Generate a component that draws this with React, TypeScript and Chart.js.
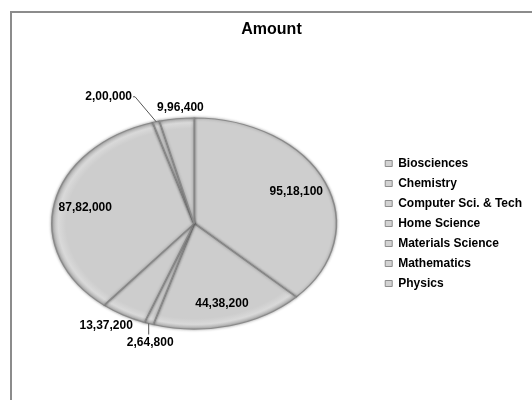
import React, { useEffect, useRef } from 'react';
import { Chart, registerables } from 'chart.js';

Chart.register(...registerables);

const categories = [
  'Biosciences',
  'Chemistry',
  'Computer Sci. & Tech',
  'Home Science',
  'Materials Science',
  'Mathematics',
  'Physics',
];
const amounts = [9518100, 4438200, 264800, 1337200, 8782000, 200000, 996400];
const chartTitle = 'Amount';

const FONT = '"Liberation Sans", Arial, sans-serif';
const Y_SCALE = 0.742;

function formatIndian(n: number): string {
  const s = String(Math.round(n));
  if (s.length <= 3) return s;
  const last3 = s.slice(-3);
  let rest = s.slice(0, -3);
  const parts: string[] = [];
  while (rest.length > 2) {
    parts.unshift(rest.slice(-2));
    rest = rest.slice(0, -2);
  }
  if (rest.length) parts.unshift(rest);
  return parts.join(',') + ',' + last3;
}

// label placement style: inside slices, or outside with an offset from the rim
const labelStyle: Record<number, { dx: number; dy: number; leader: boolean }> = {
  2: { dx: 1.5, dy: 19, leader: true },
  3: { dx: -17, dy: 11, leader: false },
  5: { dx: -47.5, dy: -25, leader: true },
  6: { dx: 3.7, dy: -11, leader: false },
};

const framePlugin = {
  id: 'frame',
  beforeDraw(chart: any) {
    const ctx = chart.ctx;
    ctx.save();
    ctx.fillStyle = '#ffffff';
    ctx.fillRect(0, 0, chart.width, chart.height);
    ctx.strokeStyle = '#8c8c8c';
    ctx.lineWidth = 2;
    ctx.beginPath();
    ctx.moveTo(11, chart.height + 2);
    ctx.lineTo(11, 12);
    ctx.lineTo(chart.width + 2, 12);
    ctx.stroke();
    ctx.restore();
  },
};

const ellipsePlugin = {
  id: 'ellipsePie',
  beforeDatasetsDraw(chart: any) {
    const meta = chart.getDatasetMeta(0);
    const arc = meta.data[0];
    if (!arc) return;
    const ctx = chart.ctx;
    ctx.save();
    ctx.translate(arc.x, arc.y);
    ctx.scale(1, Y_SCALE);
    ctx.translate(-arc.x, -arc.y);
    ctx.shadowColor = 'rgba(0,0,0,0.35)';
    ctx.shadowBlur = 3;
  },
  afterDatasetsDraw(chart: any) {
    const ctx = chart.ctx;
    ctx.restore();
    const meta = chart.getDatasetMeta(0);
    ctx.save();
    ctx.font = `bold 12px ${FONT}`;
    ctx.fillStyle = '#000';
    ctx.textAlign = 'center';
    ctx.textBaseline = 'middle';
    meta.data.forEach((arc: any, i: number) => {
      const { x, y, startAngle, endAngle, outerRadius } = arc;
      const mid = (startAngle + endAngle) / 2;
      const text = formatIndian(amounts[i]);
      const st = labelStyle[i];
      if (!st) {
        const f = 0.78;
        const px = x + Math.cos(mid) * outerRadius * f;
        const py = y + Math.sin(mid) * outerRadius * f * Y_SCALE;
        ctx.fillText(text, px, py);
        return;
      }
      const ex = x + Math.cos(mid) * outerRadius;
      const ey = y + Math.sin(mid) * outerRadius * Y_SCALE;
      const lx = ex + st.dx;
      const ly = ey + st.dy;
      ctx.fillText(text, lx, ly);
      if (st.leader) {
        const w = ctx.measureText(text).width;
        const left = lx - w / 2;
        const right = lx + w / 2;
        const top = ly - 7;
        const bottom = ly + 7;
        let tx: number;
        let ty: number;
        if (ex < left || ex > right) {
          tx = ex > right ? right + 3 : left - 3;
          ty = ly;
        } else {
          tx = ex;
          ty = ey < top ? top - 1 : bottom + 1;
        }
        ctx.save();
        ctx.strokeStyle = '#555';
        ctx.lineWidth = 1;
        ctx.beginPath();
        ctx.moveTo(ex, ey);
        ctx.lineTo(tx, ty);
        if (ex < left || ex > right) {
          ctx.lineTo(ex > right ? right + 1 : left - 1, ty);
        }
        ctx.stroke();
        ctx.restore();
      }
    });
    ctx.restore();
  },
};

export default function App() {
  const ref = useRef<HTMLCanvasElement | null>(null);

  useEffect(() => {
    if (!ref.current) return;
    const chart = new Chart(ref.current, {
      type: 'pie',
      data: {
        labels: categories,
        datasets: [
          {
            data: amounts,
            backgroundColor: (c: any) => {
              const ch = c.chart;
              const meta = ch.getDatasetMeta(0);
              const arc = meta && meta.data && meta.data[0];
              if (!arc || !arc.outerRadius) return '#cecece';
              const g = ch.ctx.createRadialGradient(arc.x, arc.y, 0, arc.x, arc.y, arc.outerRadius);
              g.addColorStop(0, '#cdcdcd');
              g.addColorStop(0.9, '#cdcdcd');
              g.addColorStop(0.955, '#d9d9d9');
              g.addColorStop(1, '#b5b5b5');
              return g;
            },
            borderColor: '#8a8a8a',
            borderWidth: 1.5,
            hoverOffset: 0,
            offset: 0,
          } as any,
        ],
      },
      options: {
        responsive: false,
        animation: false,
        events: [],
        layout: { padding: { left: 11, right: 0, top: 0, bottom: 33.5 } },
        plugins: {
          tooltip: { enabled: false },
          title: {
            display: true,
            text: chartTitle,
            color: '#000',
            font: { family: FONT, size: 16, weight: 'bold' },
            padding: { top: 20, bottom: 41.3 },
          },
          legend: {
            display: true,
            position: 'right',
            fullSize: false,
            align: 'center',
            labels: {
              boxWidth: 7,
              boxHeight: 6,
              padding: 8,
              color: '#000',
              font: { family: FONT, size: 12, weight: 'bold' },
              generateLabels: (ch: any) =>
                categories.map((t, i) => ({
                  text: t,
                  fillStyle: '#d2d2d2',
                  strokeStyle: '#8c8c8c',
                  lineWidth: 1,
                  fontColor: '#000',
                  hidden: !ch.getDataVisibility(i),
                  index: i,
                })),
            },
          },
        },
      } as any,
      plugins: [framePlugin, ellipsePlugin],
    });
    return () => chart.destroy();
  }, []);

  return (
    <canvas
      ref={ref}
      width={532}
      height={400}
      style={{ position: 'absolute', left: 0, top: 0, display: 'block' }}
    />
  );
}
